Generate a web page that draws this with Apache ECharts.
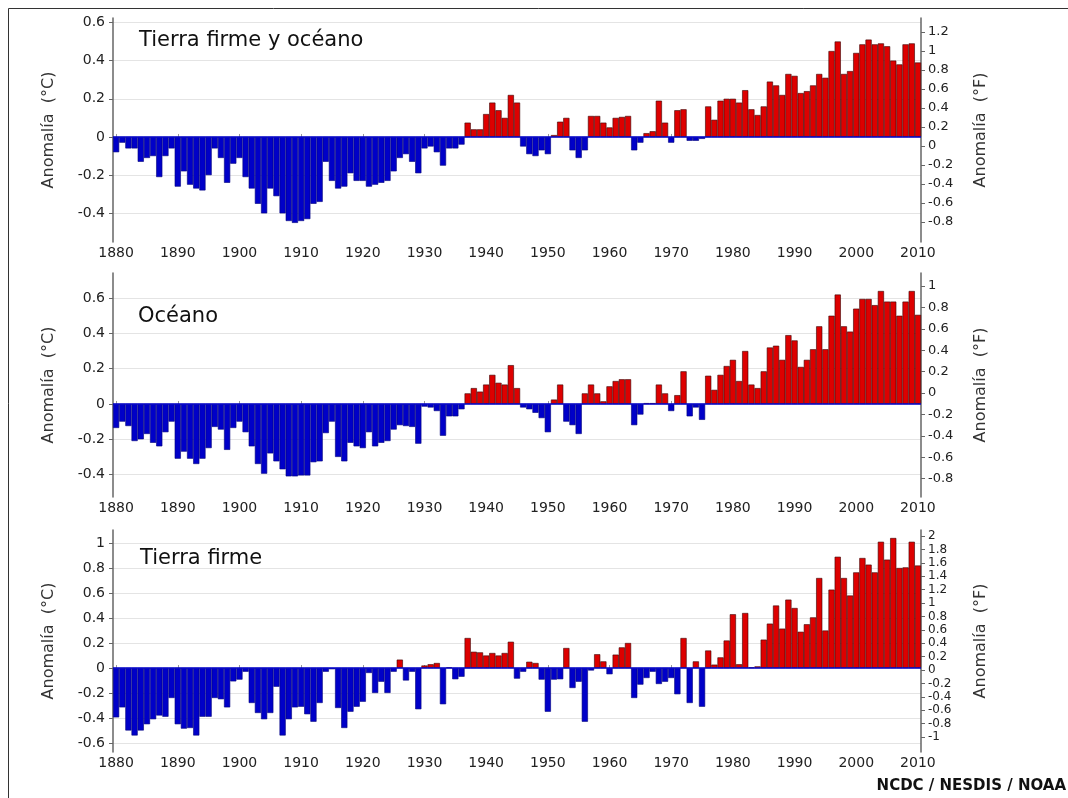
<!DOCTYPE html>
<html><head><meta charset="utf-8">
<script src="https://cdn.jsdelivr.net/npm/echarts@6/dist/echarts.min.js"></script>
<style>html,body{margin:0;padding:0;background:#fff}#c{width:1068px;height:798px}</style>
</head><body><div id="c"></div>
<script>
const years = [];
for (let y = 1880; y <= 2010; y++) years.push(String(y));

const landOcean = [
 -0.08,-0.03,-0.06,-0.06,-0.13,-0.11,-0.10,-0.21,-0.10,-0.06,
 -0.26,-0.18,-0.25,-0.27,-0.28,-0.20,-0.06,-0.11,-0.24,-0.14,
 -0.11,-0.21,-0.27,-0.35,-0.40,-0.27,-0.31,-0.40,-0.44,-0.45,
 -0.44,-0.43,-0.35,-0.34,-0.13,-0.23,-0.27,-0.26,-0.19,-0.23,
 -0.23,-0.26,-0.25,-0.24,-0.23,-0.18,-0.11,-0.09,-0.13,-0.19,
 -0.06,-0.05,-0.08,-0.15,-0.06,-0.06,-0.04,0.075,0.04,0.04,
 0.12,0.18,0.14,0.10,0.22,0.18,-0.05,-0.09,-0.10,-0.07,
 -0.09,0.01,0.08,0.10,-0.07,-0.11,-0.07,0.11,0.11,0.075,
 0.05,0.10,0.105,0.11,-0.07,-0.03,0.02,0.03,0.19,0.075,
 -0.03,0.14,0.145,-0.02,-0.02,-0.01,0.16,0.09,0.19,0.20,
 0.20,0.18,0.245,0.145,0.115,0.16,0.29,0.27,0.22,0.33,
 0.32,0.23,0.24,0.27,0.33,0.31,0.45,0.50,0.33,0.345,
 0.44,0.485,0.51,0.485,0.49,0.475,0.40,0.38,0.485,0.49,
 0.39
];
const ocean = [
 -0.136,-0.10,-0.125,-0.21,-0.20,-0.17,-0.22,-0.24,-0.16,-0.10,
 -0.31,-0.27,-0.31,-0.34,-0.31,-0.25,-0.13,-0.145,-0.26,-0.136,
 -0.10,-0.16,-0.24,-0.34,-0.395,-0.28,-0.325,-0.37,-0.41,-0.41,
 -0.405,-0.405,-0.33,-0.325,-0.165,-0.10,-0.30,-0.325,-0.22,-0.24,
 -0.25,-0.16,-0.24,-0.22,-0.21,-0.145,-0.12,-0.125,-0.13,-0.225,
 -0.015,-0.02,-0.04,-0.18,-0.07,-0.07,-0.03,0.06,0.09,0.07,
 0.11,0.165,0.12,0.11,0.22,0.09,-0.02,-0.03,-0.05,-0.08,
 -0.16,0.025,0.11,-0.10,-0.12,-0.17,0.06,0.11,0.06,0.015,
 0.10,0.13,0.14,0.14,-0.12,-0.06,0.005,0.005,0.11,0.06,
 -0.04,0.05,0.185,-0.07,-0.02,-0.09,0.16,0.08,0.165,0.215,
 0.25,0.13,0.30,0.11,0.09,0.185,0.32,0.33,0.25,0.39,
 0.36,0.21,0.25,0.31,0.44,0.31,0.50,0.62,0.44,0.41,
 0.54,0.595,0.595,0.56,0.64,0.58,0.58,0.50,0.58,0.64,
 0.505
];
const land = [
 -0.395,-0.315,-0.50,-0.54,-0.50,-0.45,-0.41,-0.38,-0.39,-0.24,
 -0.45,-0.485,-0.48,-0.54,-0.39,-0.39,-0.24,-0.25,-0.315,-0.107,
 -0.093,-0.03,-0.28,-0.36,-0.41,-0.36,-0.15,-0.54,-0.41,-0.315,
 -0.31,-0.37,-0.43,-0.28,-0.03,-0.01,-0.32,-0.48,-0.35,-0.31,
 -0.27,-0.04,-0.20,-0.11,-0.20,-0.03,0.067,-0.10,-0.03,-0.33,
 0.02,0.03,0.04,-0.29,0.005,-0.09,-0.07,0.24,0.13,0.125,
 0.10,0.12,0.10,0.12,0.21,-0.085,-0.03,0.05,0.04,-0.093,
 -0.35,-0.093,-0.09,0.16,-0.16,-0.11,-0.43,-0.02,0.11,0.053,
 -0.05,0.107,0.165,0.20,-0.24,-0.133,-0.08,-0.03,-0.128,-0.11,
 -0.08,-0.21,0.24,-0.28,0.053,-0.31,0.14,0.027,0.085,0.22,
 0.43,0.03,0.44,0.005,0.013,0.227,0.355,0.50,0.315,0.547,
 0.48,0.29,0.35,0.405,0.72,0.30,0.627,0.89,0.72,0.58,
 0.765,0.88,0.827,0.765,1.01,0.867,1.04,0.80,0.805,1.01,
 0.82
];

const ticksC1 = [-0.4,-0.2,0,0.2,0.4,0.6];
const ticksF1 = [-0.8,-0.6,-0.4,-0.2,0,0.2,0.4,0.6,0.8,1,1.2];
const ticksC2 = [-0.4,-0.2,0,0.2,0.4,0.6];
const ticksF2 = [-0.8,-0.6,-0.4,-0.2,0,0.2,0.4,0.6,0.8,1];
const ticksC3 = [-0.6,-0.4,-0.2,0,0.2,0.4,0.6,0.8,1];
const ticksF3 = [-1,-0.8,-0.6,-0.4,-0.2,0,0.2,0.4,0.6,0.8,1,1.2,1.4,1.6,1.8,2];
const titles = ['Tierra firme y océano', 'Océano', 'Tierra firme'];
const nameC = 'Anomalía  (°C)';
const nameF = 'Anomalía  (°F)';
const source = 'NCDC / NESDIS / NOAA';

const FONT = 'DejaVu Sans';
const RED = '#DD0000', BLUE = '#0000C8';

const panels = [
 {top:18,  height:224, cMin:-0.55,  cMax:0.623, fMin:-1.01,  fMax:1.347, data:landOcean, tc:ticksC1, tf:ticksF1, title:titles[0], tx:139, ty:41,  fSize:13},
 {top:273, height:224, cMin:-0.527, cMax:0.742, fMin:-0.972, fMax:1.121, data:ocean,     tc:ticksC2, tf:ticksF2, title:titles[1], tx:138, ty:317, fSize:13},
 {top:530, height:222, cMin:-0.672, cMax:1.104, fMin:-1.224, fMax:2.09,  data:land,      tc:ticksC3, tf:ticksF3, title:titles[2], tx:140, ty:559, fSize:12}
];

const chart = echarts.init(document.getElementById('c'));
const grid = [], xAxis = [], yAxis = [], series = [], graphic = [];

panels.forEach((p, i) => {
  grid.push({left:113, right:147, top:p.top, height:p.height, containLabel:false});
  xAxis.push({
    type:'category', gridIndex:i, data:years, boundaryGap:true,
    axisLine:{show:false},
    axisTick:{show:true, interval:9, alignWithLabel:true, inside:true, length:3, lineStyle:{color:'#999'}},
    axisLabel:{interval:9, fontFamily:FONT, fontSize:14, color:'#222', margin:4},
    splitLine:{show:false}
  });
  yAxis.push({
    type:'value', gridIndex:i, position:'left', min:p.cMin, max:p.cMax,
    name:nameC, nameLocation:'middle', nameGap:56, nameRotate:90,
    nameTextStyle:{fontFamily:FONT, fontSize:16, color:'#333'},
    axisLine:{show:true, lineStyle:{color:'#666', width:1.5}},
    axisTick:{show:true, customValues:p.tc, length:4, lineStyle:{color:'#666'}},
    axisLabel:{customValues:p.tc, fontFamily:FONT, fontSize:14, color:'#222', margin:8},
    splitLine:{show:false}
  });
  yAxis.push({
    type:'value', gridIndex:i, position:'right', min:p.fMin, max:p.fMax,
    name:nameF, nameLocation:'middle', nameGap:52, nameRotate:90,
    nameTextStyle:{fontFamily:FONT, fontSize:16, color:'#333'},
    axisLine:{show:true, lineStyle:{color:'#666', width:1.5}},
    axisTick:{show:true, customValues:p.tf, length:4, lineStyle:{color:'#666'}},
    axisLabel:{customValues:p.tf, fontFamily:FONT, fontSize:p.fSize, color:'#222', margin:7},
    splitLine:{show:false}
  });
  series.push({
    type:'line', xAxisIndex:i, yAxisIndex:2*i, data:[], z:0, silent:true,
    markLine:{silent:true, symbol:'none', animation:false, z:0, label:{show:false},
      lineStyle:{color:'#e4e4e4', width:1, type:'solid'},
      data:p.tc.filter(v => v !== 0).map(v => ({yAxis:v}))}
  });
  series.push({
    type:'bar', xAxisIndex:i, yAxisIndex:2*i, barCategoryGap:'0%', z:2, animation:false,
    data:p.data.map(v => ({value:v, itemStyle: v >= 0
      ? {color:RED, borderColor:'#3a0000', borderWidth:0.6}
      : {color:BLUE, borderColor:'#00007a', borderWidth:0.6}})),
    markLine:{silent:true, symbol:'none', animation:false, z:5, label:{show:false},
      lineStyle:{color:BLUE, width:1.5, type:'solid'}, data:[{yAxis:0}]}
  });
  graphic.push({type:'text', x:p.tx, y:p.ty,
    style:{text:p.title, font:'21px "DejaVu Sans"', fill:'#111', verticalAlign:'middle'}});
});

graphic.push({type:'text', x:1066, y:786,
  style:{text:source, font:'bold 15px "DejaVu Sans"', fill:'#111', align:'right', verticalAlign:'middle'}});
graphic.push({type:'line', shape:{x1:8.5, y1:8.5, x2:8.5, y2:798}, style:{stroke:'#333', lineWidth:1}});
graphic.push({type:'line', shape:{x1:8.5, y1:8.5, x2:1068, y2:8.5}, style:{stroke:'#333', lineWidth:1}});

chart.setOption({animation:false, grid, xAxis, yAxis, series, graphic});
</script>
</body></html>
